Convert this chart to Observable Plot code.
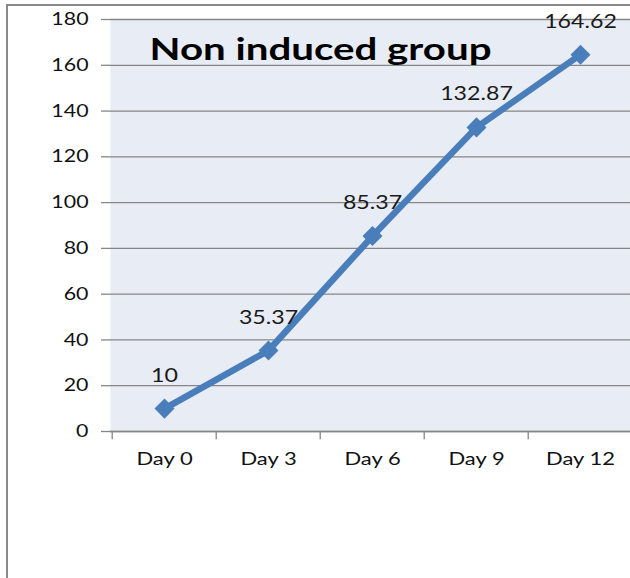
<!DOCTYPE html>
<html>
<head>
<meta charset="utf-8">
<script src="https://cdn.jsdelivr.net/npm/d3@7"></script>
<script src="https://cdn.jsdelivr.net/npm/@observablehq/plot@0.6"></script>
<style>
  html, body { margin: 0; padding: 0; background: #fff; overflow: hidden; }
  #wrap { position: relative; width: 630px; height: 578px; }
  #border { position: absolute; left: 6px; top: 4px; width: 640px; height: 600px;
            border-top: 2px solid #8a8a8a; border-left: 2px solid #8a8a8a; }
  #chart { position: absolute; left: 0; top: 0; }
</style>
</head>
<body>
<div id="wrap"><div id="border"></div><div id="chart"></div></div>
<script>
const days = ["Day 0", "Day 3", "Day 6", "Day 9", "Day 12"];
const values = [10, 35.37, 85.37, 132.87, 164.62];
const valueLabels = ["10", "35.37", "85.37", "132.87", "164.62"];
const yTicks = [0, 20, 40, 60, 80, 100, 120, 140, 160, 180];
const title = "Non induced group";

const data = days.map((d, i) => ({day: d, value: values[i], label: valueLabels[i]}));

const blue = "#4a7ebb";
const gridColor = "#868686";
const font = "Lato, 'Open Sans', sans-serif";

const chart = Plot.plot({
  width: 630,
  height: 578,
  marginLeft: 110,
  marginRight: 0,
  marginTop: 19,
  marginBottom: 147,
  style: {fontFamily: font, fontSize: "17px", color: "#000", background: "transparent"},
  x: {type: "band", domain: days, range: [110, 633], padding: 0, label: null},
  y: {domain: [0, 180], label: null},
  marks: [
    Plot.frame({fill: "#e8ecf4", stroke: null}),
    Plot.gridY(yTicks, {stroke: gridColor, strokeOpacity: 1, strokeWidth: 1.3}),
    Plot.axisY(yTicks, {tickSize: 9, tickPadding: 13, stroke: gridColor, strokeWidth: 1.3, fontSize: 17.5, fill: "#111"}),
    Plot.axisX({tickSize: 0, tickPadding: 21, fontSize: 18, fill: "#111"}),
    Plot.ruleY([0], {stroke: gridColor, strokeWidth: 1.5}),
    Plot.ruleX(days, {x: d => d, dx: -52.3, y1: 0, y2: -3.6, stroke: gridColor, strokeWidth: 1.3}),
    Plot.line(data, {x: "day", y: "value", stroke: blue, strokeWidth: 6.5, strokeLinejoin: "round"}),
    Plot.dot(data, {x: "day", y: "value", symbol: "square", rotate: 45, r: 8, fill: blue, stroke: null}),
    Plot.text(data, {x: "day", y: "value", text: "label", dy: -33, fontSize: 19, fill: "#1a1a1a"}),
    Plot.text([title], {frameAnchor: "top-left", dx: 39, dy: 40, text: d => d, textAnchor: "start",
      lineAnchor: "bottom", fontSize: 30, fontWeight: "bold", fill: "#000", className: "chart-title"})
  ]
});
document.getElementById("chart").appendChild(chart);

// Stretch text horizontally to mimic the wide rendering of the reference
chart.querySelectorAll("text").forEach(t => {
  const len = t.getComputedTextLength();
  if (!len) return;
  const isTitle = t.textContent === title;
  t.setAttribute("textLength", isTitle ? 342 : len * 1.22);
  t.setAttribute("lengthAdjust", "spacingAndGlyphs");
});
</script>
</body>
</html>
